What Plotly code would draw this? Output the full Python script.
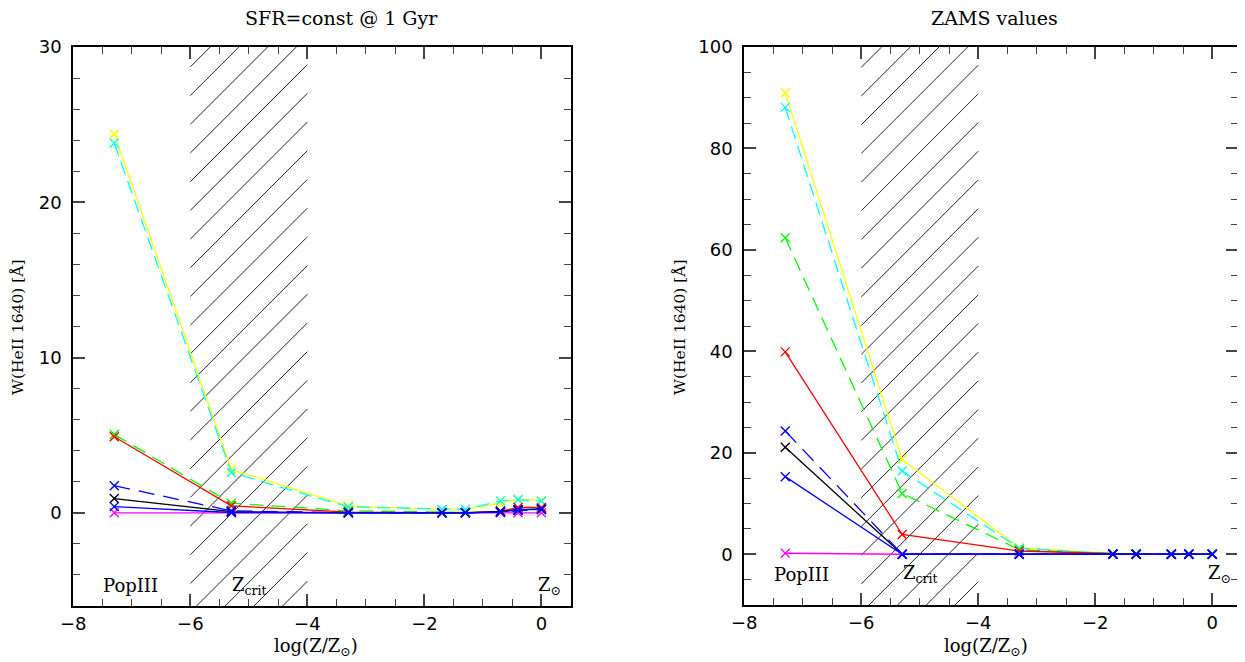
import plotly.graph_objects as go

# ---------------- data ----------------
logZ = [-7.3, -5.3, -3.3, -1.7, -1.3, -0.7, -0.4, 0.0]

sfr_yellow = [24.4, 2.8, 0.45, 0.22, 0.22, 0.62, 0.88, 0.80]
sfr_cyan = [23.8, 2.6, 0.38, 0.22, 0.22, 0.77, 0.84, 0.74]
sfr_green = [5.05, 0.62, 0.13, 0.03, 0.03, 0.10, 0.15, 0.20]
sfr_red = [4.9, 0.45, 0.05, 0.0, 0.0, 0.10, 0.35, 0.35]
sfr_black = [0.92, 0.08, 0.0, 0.0, 0.0, 0.10, 0.20, 0.25]
sfr_blue_dash = [1.75, 0.13, 0.01, 0.0, 0.0, 0.05, 0.15, 0.25]
sfr_blue = [0.40, 0.02, 0.0, 0.0, 0.0, 0.05, 0.20, 0.22]
sfr_magenta = [0.0, 0.0, 0.0, 0.0, 0.0, 0.0, 0.0, 0.0]

zams_yellow = [91.0, 18.7, 1.3, 0.15, 0.1, 0.1, 0.1, 0.1]
zams_cyan = [88.1, 16.4, 1.2, 0.12, 0.1, 0.1, 0.1, 0.1]
zams_green = [62.4, 12.0, 0.9, 0.1, 0.05, 0.05, 0.05, 0.05]
zams_red = [39.9, 3.9, 0.65, 0.05, 0.0, 0.0, 0.0, 0.0]
zams_black = [21.1, 0.0, 0.0, 0.0, 0.0, 0.0, 0.0, 0.0]
zams_blue_dash = [24.3, 0.0, 0.0, 0.0, 0.0, 0.0, 0.0, 0.0]
zams_blue = [15.3, 0.0, 0.0, 0.0, 0.0, 0.0, 0.0, 0.0]
zams_magenta = [0.2, 0.0, 0.0, 0.0, 0.0, 0.0, 0.0, 0.0]

panel_titles = ["SFR=const @ 1 Gyr", "ZAMS values"]
ytitle = "W(HeII 1640) [Å]"
xtitle = "log(Z/Z<sub>⊙</sub>)"
crit_range = [-6, -4]

# ---------------- styles ----------------
styles = {
    "magenta": dict(color="#FF00FF", dash="solid"),
    "yellow": dict(color="#FFFF00", dash="solid"),
    "cyan": dict(color="#00FFFF", dash="13px,7px"),
    "green": dict(color="#00FF00", dash="14px,8px"),
    "red": dict(color="#FF0000", dash="solid"),
    "black": dict(color="#000000", dash="solid"),
    "blue_dash": dict(color="#0000FF", dash="16px,9px"),
    "blue": dict(color="#0000FF", dash="solid"),
}
order = ["magenta", "yellow", "cyan", "green", "red", "black", "blue_dash", "blue"]

sfr = dict(yellow=sfr_yellow, cyan=sfr_cyan, green=sfr_green, red=sfr_red,
           black=sfr_black, blue_dash=sfr_blue_dash, blue=sfr_blue, magenta=sfr_magenta)
zams = dict(yellow=zams_yellow, cyan=zams_cyan, green=zams_green, red=zams_red,
            black=zams_black, blue_dash=zams_blue_dash, blue=zams_blue, magenta=zams_magenta)

# The page body has an 8px margin: figure coordinates = page coordinates - 8
OFF = 8
W, H = 1245 - OFF, 662 - OFF


def px(x):
    return (x - OFF) / W


def py(y):
    return 1 - (y - OFF) / H


# plot-area pixel boxes (page coordinates)
L_box = dict(x0=73.3, x1=570.7, ytop=47, ybot=606)
R_box = dict(x0=744.3, x1=1238.0, ytop=47, ybot=605)
L_xr, L_yr = [-8, 0.5], [-6, 30]
R_xr, R_yr = [-8, 0.44], [-10, 100]

fig = go.Figure()

for name in order:
    st = styles[name]
    for ys, xa, ya in [(sfr[name], "x", "y"), (zams[name], "x2", "y2")]:
        fig.add_trace(go.Scatter(
            x=logZ, y=ys, xaxis=xa, yaxis=ya, mode="lines+markers",
            line=dict(color=st["color"], width=1.3, dash=st["dash"]),
            marker=dict(symbol="x-thin", size=9, line=dict(color=st["color"], width=1.4)),
            showlegend=False, hoverinfo="skip"))


# ---------------- hatching ----------------
def hatch(box, xr, yr, xref, yref, spacing=28.7, phase=20.0):
    sx = (box["x1"] - box["x0"]) / (xr[1] - xr[0])
    sy = (box["ybot"] - box["ytop"]) / (yr[1] - yr[0])
    P0 = (crit_range[0] - xr[0]) * sx
    P1 = (crit_range[1] - xr[0]) * sx
    Hp = box["ybot"] - box["ytop"]
    shapes = []
    c = phase - (int((P1 + 10) / spacing) + 1) * spacing
    while c < Hp:
        ps = max(P0, -c)
        pe = min(P1, Hp - c)
        if pe > ps:
            shapes.append(dict(
                type="line", xref=xref, yref=yref,
                x0=xr[0] + ps / sx, y0=yr[0] + (ps + c) / sy,
                x1=xr[0] + pe / sx, y1=yr[0] + (pe + c) / sy,
                line=dict(color="#222222", width=1), layer="below"))
        c += spacing
    return shapes


shapes = hatch(L_box, L_xr, L_yr, "x", "y", phase=20.3) + hatch(R_box, R_xr, R_yr, "x2", "y2", phase=18.9)

# ---------------- axes ----------------
tickfont = dict(family="DejaVu Sans", size=18, color="#000000")
textfont = dict(family="DejaVu Serif", size=18, color="#000000")


def xaxis_cfg(box, xr):
    return dict(domain=[px(box["x0"]), px(box["x1"])], range=xr, showgrid=False, zeroline=False,
                automargin=False,
                showline=True, linecolor="#000000", linewidth=2, mirror="allticks",
                ticks="inside", ticklen=12, tickwidth=1.5, tickcolor="#444444",
                tick0=0, dtick=2, tickfont=tickfont, ticklabelstandoff=0,
                minor=dict(dtick=0.5, tick0=0, ticks="inside", ticklen=7, tickwidth=1.3, tickcolor="#444444"),
                tickformat="d")


def yaxis_cfg(box, yr, dtick, mdtick):
    return dict(domain=[py(box["ybot"]), py(box["ytop"])], range=yr, showgrid=False, zeroline=False,
                automargin=False,
                showline=True, linecolor="#000000", linewidth=2, mirror="allticks",
                ticks="inside", ticklen=12, tickwidth=1.5, tickcolor="#444444",
                tick0=0, dtick=dtick, tickfont=tickfont, ticklabelstandoff=6,
                minor=dict(dtick=mdtick, tick0=0, ticks="inside", ticklen=7, tickwidth=1.3, tickcolor="#444444"))


annotations = []
# panel titles
for txt, xc in zip(panel_titles, [341, 994]):
    annotations.append(dict(text=txt, x=px(xc), y=py(18), xref="paper", yref="paper",
                            showarrow=False, borderpad=0,
                            font=dict(family="DejaVu Serif", size=19, color="#000000"),
                            xanchor="center", yanchor="middle"))
# axis titles
for xc in [316, 986]:
    annotations.append(dict(text=xtitle, x=px(xc), y=py(647), xref="paper", yref="paper",
                            showarrow=False, font=textfont, xanchor="center", yanchor="middle"))
for xc in [18, 680]:
    annotations.append(dict(text=ytitle, x=px(xc), y=py(327), xref="paper", yref="paper", textangle=-90,
                            showarrow=False, font=dict(family="DejaVu Serif", size=15.5, color="#000000"),
                            xanchor="center", yanchor="middle"))
# in-panel labels
for xa, ya, ylab in [("x", "y", -4.7), ("x2", "y2", -3.9)]:
    annotations.append(dict(text="PopIII", x=-7.03, y=ylab, xref=xa, yref=ya, showarrow=False,
                            font=textfont, xanchor="center", yanchor="middle"))
    annotations.append(dict(text="Z<sub>crit</sub>", x=-5.32, y=ylab, xref=xa, yref=ya, showarrow=False,
                            font=textfont, xanchor="left", yanchor="middle"))
    annotations.append(dict(text="Z<sub>⊙</sub>", x=-0.1, y=ylab, xref=xa, yref=ya, showarrow=False,
                            font=textfont, xanchor="left", yanchor="middle"))

fig.update_layout(
    width=W, height=H, margin=dict(l=0, r=0, t=0, b=0, autoexpand=False),
    paper_bgcolor="white", plot_bgcolor="white",
    xaxis=xaxis_cfg(L_box, L_xr), yaxis=yaxis_cfg(L_box, L_yr, 10, 2),
    xaxis2=dict(xaxis_cfg(R_box, R_xr), anchor="y2"),
    yaxis2=dict(yaxis_cfg(R_box, R_yr, 20, 5), anchor="x2"),
    shapes=shapes, annotations=annotations, showlegend=False,
)

fig.write_html("out.html")
